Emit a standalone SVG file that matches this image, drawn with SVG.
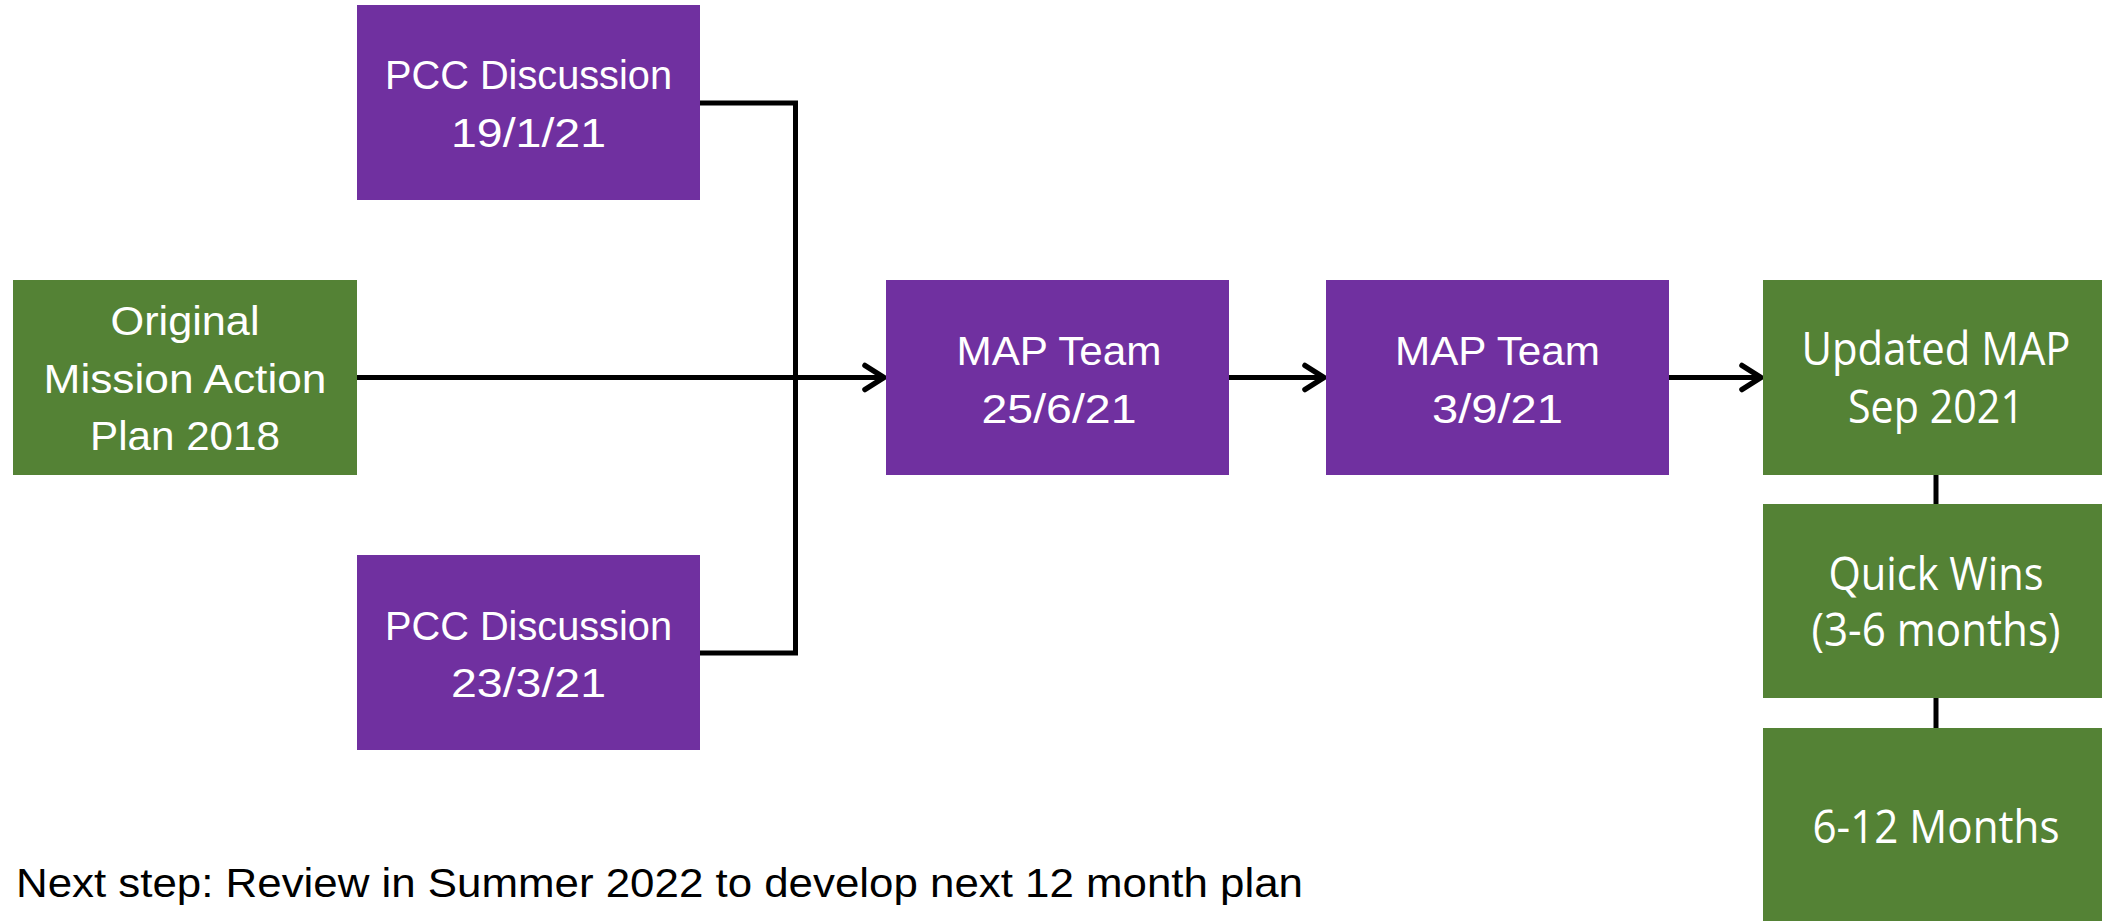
<svg xmlns="http://www.w3.org/2000/svg" width="2102" height="921" viewBox="0 0 2102 921">
<style>
.purple{fill:#7030A0}
.green{fill:#548235}
.t{font-family:"Liberation Sans",Arial,sans-serif;font-size:40px;fill:#ffffff;text-anchor:middle}
.r{font-family:"Open Sans","Noto Sans",sans-serif;font-size:45px;fill:#ffffff;text-anchor:middle}
.note{font-family:"Liberation Sans",Arial,sans-serif;font-size:40px;fill:#000000}
.ln{stroke:#000;stroke-width:5;fill:none}
</style>
<defs>
<marker id="arr" markerUnits="userSpaceOnUse" markerWidth="30" markerHeight="34" refX="24" refY="17" orient="auto">
<path d="M5,5 L24,17 L5,29" fill="none" stroke="#000" stroke-width="5.5" stroke-linecap="round" stroke-linejoin="round"/>
</marker>
</defs>
<rect width="2102" height="921" fill="#ffffff"/>
<g id="connectors">
<path class="ln" d="M700,103 H795.5 V653 H700"/>
<path class="ln" d="M357,377.5 H884" marker-end="url(#arr)"/>
<path class="ln" d="M1229,377.5 H1324" marker-end="url(#arr)"/>
<path class="ln" d="M1669,377.5 H1761" marker-end="url(#arr)"/>
<path class="ln" d="M1936,475 V504"/>
<path class="ln" d="M1936,698 V728"/>
</g>
<g id="pcc1">
<rect class="purple" x="357" y="5" width="343" height="195"/>
<text class="t" x="528.5" y="89" textLength="287" lengthAdjust="spacingAndGlyphs">PCC Discussion</text>
<text class="t" x="528.5" y="147" textLength="155" lengthAdjust="spacingAndGlyphs">19/1/21</text>
</g>
<g id="original">
<rect class="green" x="13" y="280" width="344" height="195"/>
<text class="t" x="185" y="335" textLength="149" lengthAdjust="spacingAndGlyphs">Original</text>
<text class="t" x="185" y="393" textLength="283" lengthAdjust="spacingAndGlyphs">Mission Action</text>
<text class="t" x="185" y="450" textLength="190" lengthAdjust="spacingAndGlyphs">Plan 2018</text>
</g>
<g id="pcc2">
<rect class="purple" x="357" y="555" width="343" height="195"/>
<text class="t" x="528.5" y="640" textLength="287" lengthAdjust="spacingAndGlyphs">PCC Discussion</text>
<text class="t" x="528.5" y="697" textLength="155" lengthAdjust="spacingAndGlyphs">23/3/21</text>
</g>
<g id="map1">
<rect class="purple" x="886" y="280" width="343" height="195"/>
<text class="t" x="1059" y="365" textLength="205" lengthAdjust="spacingAndGlyphs">MAP Team</text>
<text class="t" x="1059" y="423" textLength="155" lengthAdjust="spacingAndGlyphs">25/6/21</text>
</g>
<g id="map2">
<rect class="purple" x="1326" y="280" width="343" height="195"/>
<text class="t" x="1497.5" y="365" textLength="205" lengthAdjust="spacingAndGlyphs">MAP Team</text>
<text class="t" x="1497.5" y="423" textLength="131" lengthAdjust="spacingAndGlyphs">3/9/21</text>
</g>
<g id="updated">
<rect class="green" x="1763" y="280" width="344" height="195"/>
<text class="r" x="1936" y="365" textLength="269" lengthAdjust="spacingAndGlyphs">Updated MAP</text>
<text class="r" x="1936" y="423" textLength="176" lengthAdjust="spacingAndGlyphs">Sep 2021</text>
</g>
<g id="quickwins">
<rect class="green" x="1763" y="504" width="344" height="194"/>
<text class="r" x="1936" y="590" textLength="215" lengthAdjust="spacingAndGlyphs">Quick Wins</text>
<text class="r" x="1936" y="646" textLength="249" lengthAdjust="spacingAndGlyphs">(3-6 months)</text>
</g>
<g id="months">
<rect class="green" x="1763" y="728" width="344" height="193"/>
<text class="r" x="1936" y="843" textLength="247" lengthAdjust="spacingAndGlyphs">6-12 Months</text>
</g>
<g id="note">
<text class="note" x="16" y="897" textLength="1287" lengthAdjust="spacingAndGlyphs">Next step: Review in Summer 2022 to develop next 12 month plan</text>
</g>
</svg>
